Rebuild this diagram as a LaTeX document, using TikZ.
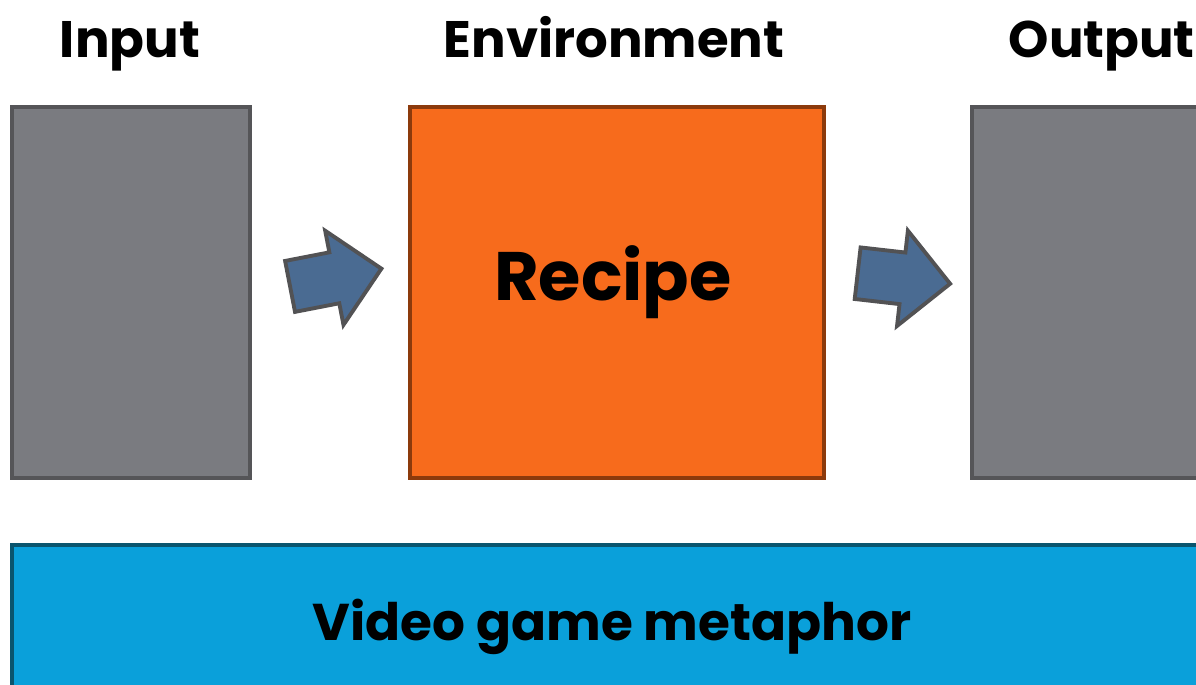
\documentclass[tikz,border=0pt]{standalone}
\usepackage{fontspec}
\setmainfont{Poppins}
\usetikzlibrary{shapes.arrows}

\definecolor{boxgray}{RGB}{122,123,128}
\definecolor{boxgrayline}{RGB}{85,85,88}
\definecolor{reciporange}{RGB}{247,107,28}
\definecolor{reciporangeline}{RGB}{140,58,12}
\definecolor{arrowblue}{RGB}{74,107,146}
\definecolor{arrowline}{RGB}{82,82,84}
\definecolor{barblue}{RGB}{10,160,218}
\definecolor{barblueline}{RGB}{10,85,110}

\tikzset{
  stagebox/.style={draw=boxgrayline, fill=boxgray, line width=1.1pt,
    minimum width=2.38cm, minimum height=3.71cm, inner sep=0pt},
  title/.style={font=\bfseries\fontsize{14.6}{17}\selectfont, inner sep=0pt, anchor=base},
  flowarrow/.style={single arrow, draw=arrowline, fill=arrowblue, line width=1.1pt,
    minimum height=0.93cm, minimum width=0.9cm, single arrow head extend=0.22cm,
    inner xsep=0pt, inner ysep=0.24cm}
}

\begin{document}
\begin{tikzpicture}[x=0.01cm, y=-0.01cm]
  \useasboundingbox (0,0) rectangle (1196,684);

  % the three stages
  \node[stagebox] (input) at (131,292.5) {};
  \node[stagebox, draw=reciporangeline, fill=reciporange, minimum width=4.14cm] (recipe) at (617,292.5) {};
  \node[stagebox] (output) at (1091,292.5) {};
  \node[font=\bfseries\fontsize{19.5}{23}\selectfont, inner sep=0pt, anchor=base] (recipetext) at (613,300) {Recipe};

  % headings
  \node[title] (inputlabel) at (130,57) {Input};
  \node[title] (envlabel) at (614,57) {Environment};
  \node[title, anchor=base west] (outputlabel) at (1008,57) {Output};

  % arrows between stages
  \node[flowarrow, rotate=11] (inarrow) at (323,280) {};
  \node[flowarrow, rotate=-6.5] (outarrow) at (891,277) {};

  % bottom bar
  \draw[draw=barblueline, fill=barblue, line width=1.1pt] (12,545) rectangle (1240,720);
  \node[font=\bfseries\fontsize{14.7}{18}\selectfont, inner sep=0pt, anchor=base] (bartext) at (612,640) {Video game metaphor};
\end{tikzpicture}
\end{document}
